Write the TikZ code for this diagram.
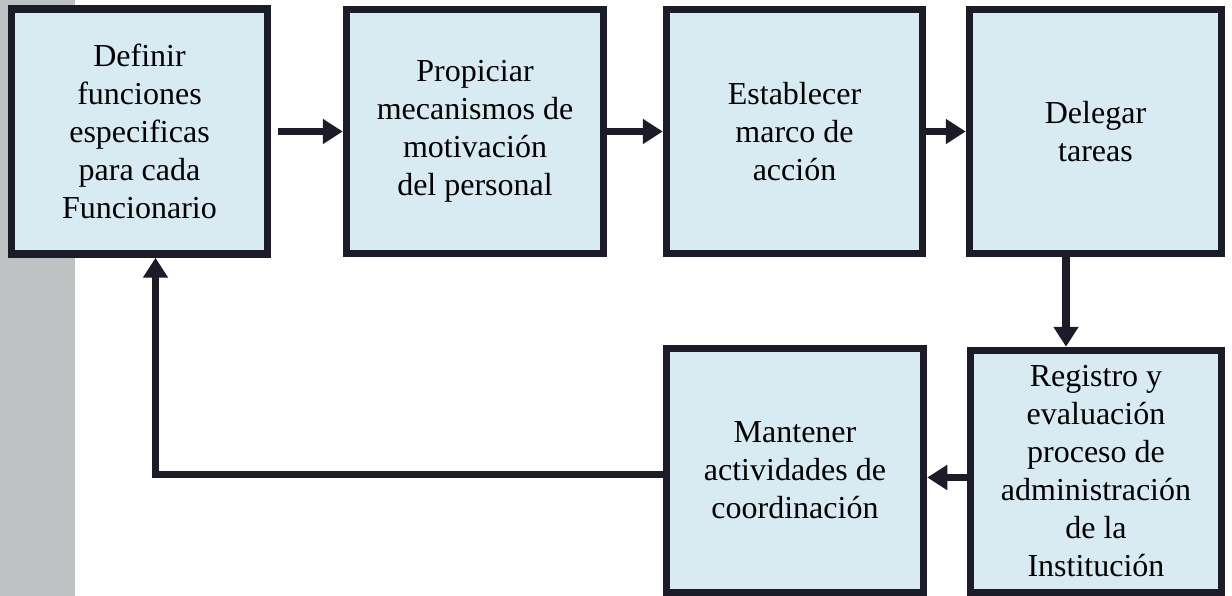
\documentclass[tikz,border=0pt]{standalone}
\usepackage{fontspec}
\setmainfont{Liberation Serif}
\usetikzlibrary{arrows.meta}
\definecolor{boxfill}{RGB}{216,234,242}
\definecolor{boxline}{RGB}{28,28,40}
\definecolor{stripgray}{RGB}{190,194,194}
\begin{document}
\begin{tikzpicture}[x=1pt,y=-1pt,
  stepbox/.style={draw=boxline, fill=boxfill, line width=7.5pt, align=center,
    font=\fontsize{32}{38}\selectfont, inner sep=0pt},
  arr/.style={draw=boxline, line width=7.5pt, line join=miter,
    -{Triangle[length=20pt,width=24pt]}}]
\useasboundingbox (0,0) rectangle (1232,596);
\fill[stripgray] (0,0) rectangle (75,596);
\node[stepbox, minimum width=256pt, minimum height=245pt] (b1) at (139.5,131.5)
  {Definir\\funciones\\especificas\\para cada\\Funcionario};
\node[stepbox, minimum width=257pt, minimum height=244pt] (b2) at (475,131.5)
  {Propiciar\\mecanismos de\\motivación\\del personal};
\node[stepbox, minimum width=256pt, minimum height=244pt] (b3) at (794.5,131.5)
  {Establecer\\marco de\\acción};
\node[stepbox, minimum width=252pt, minimum height=244pt] (b4) at (1095.5,131.5)
  {Delegar\\tareas};
\node[stepbox, minimum width=251pt, minimum height=242pt] (b5) at (1096,471.5)
  {Registro y\\evaluación\\proceso de\\administración\\de la\\Institución};
\node[stepbox, minimum width=257pt, minimum height=244pt] (b6) at (795,470.5)
  {Mantener\\actividades de\\coordinación};
\draw[arr] ([xshift=7pt]b1.east) -- (b2.west);
\draw[arr] (b2.east) -- (b3.west);
\draw[arr] (b3.east) -- (b4.west);
\draw[arr] ([xshift=-29.5pt]b4.south) -- ([xshift=-29.5pt]b4.south |- b5.north);
\draw[arr] ([yshift=-6pt]b5.west) -- ([yshift=-6pt]b5.west -| b6.east);
\draw[arr] ([yshift=-4pt]b6.west) -| ([xshift=16pt]b1.south);
\end{tikzpicture}
\end{document}
